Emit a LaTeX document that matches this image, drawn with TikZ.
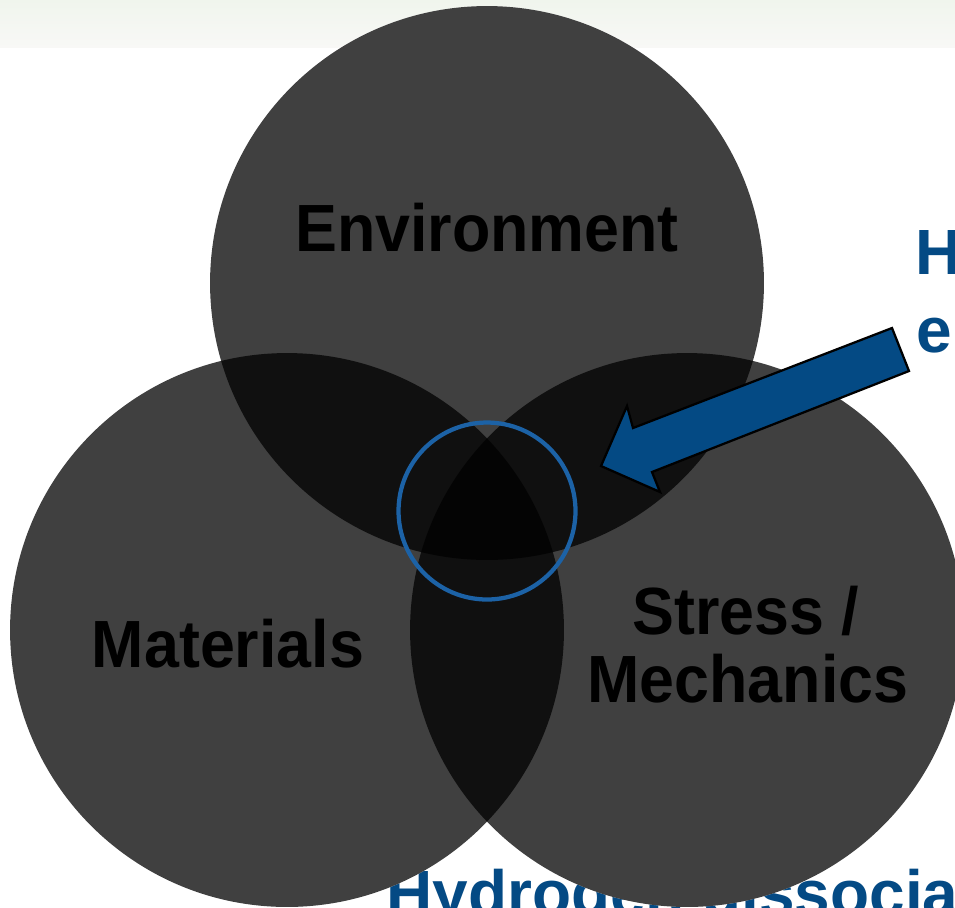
\documentclass[tikz,border=0pt]{standalone}
\usepackage{fontspec}
\setmainfont{Liberation Sans}
\newfontfamily\narrowfont[FakeStretch=0.94]{Liberation Sans}
\definecolor{hblue}{RGB}{4,74,132}
\definecolor{ringblue}{RGB}{28,98,166}
\definecolor{bandtop}{RGB}{240,245,237}
\definecolor{bandbot}{RGB}{248,248,246}
\tikzset{
  venn/.style={fill=black, fill opacity=0.75},
  vtext/.style={font=\narrowfont\fontsize{38}{40}\selectfont\bfseries, inner sep=0pt, text=black},
  htext/.style={font=\fontsize{36.4}{38.7}\selectfont\bfseries, inner sep=0pt, text=hblue, anchor=base west}
}
\begin{document}
\begin{tikzpicture}[x=0.02cm, y=-0.02cm]
  \useasboundingbox (0,0) rectangle (955,907);
  \clip (0,0) rectangle (955,907);
  % pozadie hore
  \shade[top color=bandtop, bottom color=bandbot] (0,0) rectangle (955,47);
  % modre texty
  \node[htext] (hyd) at (915,274) {Hydrogen};
  \node[htext] (emb) at (916,352) {embrittlement};
  \node[htext] (diss) at (386,915) {Hydrogen dissociation};
  % kruhy
  \fill[white] (487,283) circle (5.54cm) (287,630) circle (5.54cm) (687,630) circle (5.54cm);
  \fill[venn] (487,283) circle (5.54cm);
  \fill[venn] (287,630) circle (5.54cm);
  \fill[venn] (687,630) circle (5.54cm);
  % prienik
  \draw[ringblue, line width=0.085cm] (487,511) circle (1.77cm);
  % sipka
  \draw[fill=hblue, line width=0.045cm] (601,466) -- (627,406) -- (633,428) -- (892,328)
    -- (909,371) -- (652,472) -- (660,492) -- cycle;
  % popisy
  \node[vtext, anchor=base] (env) at (487,251) {Environment};
  \node[vtext, anchor=base] (mat) at (228,667) {Materials};
  \node[vtext, anchor=base] (stress) at (746,634) {Stress /};
  \node[vtext, anchor=base] (mech) at (748,702) {Mechanics};
\end{tikzpicture}
\end{document}
